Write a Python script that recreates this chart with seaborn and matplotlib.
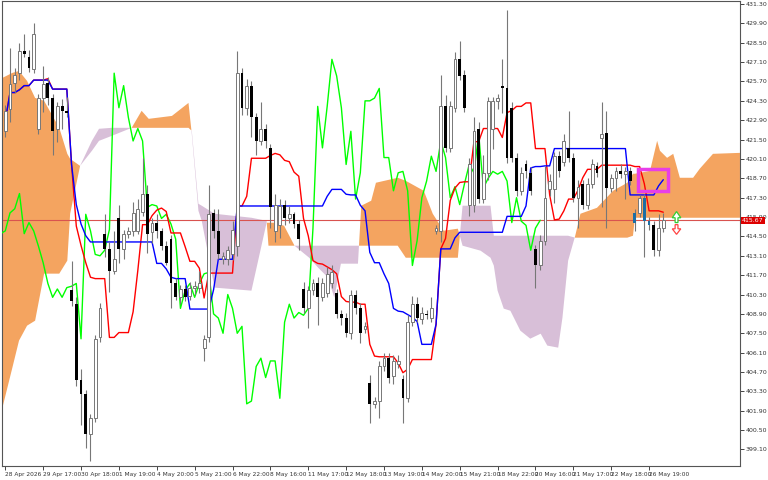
import numpy as np
import pandas as pd
import matplotlib
matplotlib.use("Agg")
import matplotlib.pyplot as plt
import seaborn as sns
from matplotlib.patches import Rectangle, FancyArrow

sns.set_style("white")
plt.rcParams['font.family'] = ['DejaVu Sans']

opens = [422.1,423.7,425.6,426.3,427.9,427.5,426.6,422.3,424.5,425.6,424.5,422.3,423.9,423.6,
 410.6,409.6,404.1,403.1,400.2,401.4,407.2,414.7,413.6,412.0,415.8,413.6,414.7,414.9,414.9,416.3,
 417.6,414.8,415.5,414.9,413.8,414.3,411.1,410.1,410.7,410.2,410.8,410.8,406.4,407.2,416.2,414.9,
 412.9,412.9,413.2,413.8,426.3,423.8,425.4,423.1,421.4,422.3,420.9,414.9,415.3,416.8,415.8,416.1,
 415.4,410.7,409.3,410.6,411.1,410.1,410.4,411.1,410.4,408.9,408.6,407.5,410.3,409.3,407.8,403.9,
 402.4,402.6,405.1,405.7,404.4,405.3,404.2,402.8,408.3,409.6,408.5,408.9,408.6,414.9,414.9,423.9,
 420.9,423.8,427.3,426.2,416.8,416.8,422.3,417.2,419.1,422.3,424.3,425.4,425.2,423.8,420.2,417.8,
 419.7,419.1,413.6,412.4,414.2,417.9,417.9,420.3,419.9,420.9,420.2,417.3,418.3,416.8,418.3,419.6,
 421.6,422.0,418.0,418.7,419.2,419.0,419.2,416.2,416.2,417.3,415.6,415.3,413.5,415.1]
closes = [423.6,425.5,426.2,427.9,427.7,426.7,429.1,424.5,425.5,424.5,422.1,423.9,423.6,423.4,
 409.8,404.1,403.1,400.2,401.4,407.1,409.3,413.6,412.0,412.9,413.6,414.7,414.9,416.2,416.5,417.6,
 414.7,415.5,414.9,413.8,412.6,411.1,410.1,410.7,410.1,410.8,410.9,411.1,407.1,416.1,414.9,413.2,
 413.1,413.5,415.0,426.3,423.8,425.4,423.1,421.4,422.3,421.4,416.6,416.8,416.7,415.8,416.1,415.4,
 414.3,409.3,410.6,411.1,410.1,411.1,411.8,411.9,408.9,408.6,407.5,410.3,409.3,407.5,408.0,402.4,
 402.6,405.1,405.7,404.3,405.5,405.5,402.8,408.3,409.6,408.6,409.0,408.8,409.3,415.1,423.9,420.9,
 423.9,427.3,426.1,423.8,419.7,422.1,417.2,419.1,424.3,424.3,424.5,425.2,420.2,420.2,417.8,419.1,
 419.2,417.8,412.4,414.2,417.3,418.5,420.3,419.2,421.4,420.2,417.3,418.1,416.8,418.3,419.7,419.1,
 421.9,418.0,418.7,419.2,419.0,419.2,418.5,415.5,417.3,415.6,415.3,413.5,415.1,415.67]
wick_up = [0.4,2.6,0.5,0.6,1.2,0.5,0.8,0.3,1.3,0.4,0.3,0.3,0.5,1.0,
 2.1,0.5,0.8,0.3,0.3,0.3,0.4,1.4,0.5,2.0,1.0,0.3,0.3,0.8,0.7,2.6,
 0.6,0.3,0.6,0.2,0.4,0.3,0.4,0.3,0.3,0.4,0.4,0.9,0.3,2.1,0.3,1.6,
 0.3,0.3,0.6,1.6,0.4,0.5,0.3,0.3,1.9,0.3,0.3,0.8,0.5,0.3,0.6,0.2,
 0.3,0.5,0.3,0.3,0.5,0.4,0.5,0.5,0.3,0.3,0.4,0.3,0.3,0.4,0.3,0.6,
 0.3,0.4,0.4,0.4,0.4,0.4,0.3,0.5,0.6,0.5,0.4,0.3,0.8,0.2,2.3,0.8,
 0.4,0.5,1.3,0.3,0.5,1.0,0.5,1.3,0.3,0.3,0.3,1.9,5.7,0.4,0.3,0.4,
 0.3,0.4,0.3,0.4,2.3,0.5,0.3,0.4,0.5,2.7,0.3,0.5,0.3,0.4,0.4,0.3,
 2.3,1.6,0.3,0.3,0.5,0.3,0.3,0.3,0.2,0.3,0.3,0.3,1.0,0.5]
wick_dn = [0.4,0.9,0.7,0.5,0.2,0.3,0.3,0.4,1.0,0.5,1.7,1.0,1.3,0.3,
 0.3,0.4,2.2,1.0,1.9,0.3,0.3,0.6,1.5,0.2,1.0,0.7,0.3,0.4,0.2,0.3,
 1.4,0.8,0.5,0.3,0.2,1.8,0.2,0.5,0.3,0.3,0.5,0.4,0.9,0.3,0.5,0.3,
 0.4,0.5,0.4,0.7,0.5,0.5,1.4,1.0,0.3,0.5,1.5,0.8,0.9,0.5,0.3,0.3,
 0.8,0.3,1.4,0.3,2.0,0.3,0.3,0.3,0.3,0.5,0.3,0.4,0.4,0.7,0.3,1.4,
 0.3,1.2,0.3,0.4,0.6,0.3,1.8,0.3,0.3,0.3,0.3,0.3,0.3,0.2,0.8,0.3,
 0.3,0.3,0.3,0.3,0.8,0.5,0.3,0.3,0.5,1.5,0.6,1.8,0.4,0.3,0.4,0.3,
 0.5,0.3,1.6,0.3,0.3,0.5,1.0,0.4,0.3,0.3,0.3,2.2,0.3,0.3,0.3,0.3,
 5.0,2.9,0.3,0.9,0.3,1.8,0.3,0.6,0.3,2.6,0.3,0.4,0.4,0.3]

cloud_x = [-0.6,1.5,2.9,4.6,6.3,8.2,11.4,13.1,13.7,15.8,18.3,19.8,22.5,26.7,28.8,30.3,35.2,38.7,39.4,
 40.8,41.5,44.2,52,55.2,55.6,56.8,58.9,61.1,64.2,66.1,68.2,69.5,70.9,74.5,75.2,77.3,78.3,82.9,84.6,
 88.4,90.3,92.6,95.6,96.6,100.4,102.5,103.2,104,105.3,106.7,108.8,110.9,113.1,114.5,116.8,117.7,118.9,
 120.4,121.5,125,128.4,131.4,132.6,133,136.2,137.7,138.3,139.8,141.1,142.5,145.3,146.7,149.5,155.2]
span_a = [425.96,426.32,426.46,425.74,424.51,424.3,422.35,420.47,420.11,419.6,420.69,421.41,421.77,422.35,
 423.58,423.0,423.21,424.15,421.9,416.35,415.63,410.8,410.58,415.49,415.49,415.49,415.27,413.83,412.96,
 412.24,411.52,410.07,412.53,412.53,416.72,417.08,418.38,418.74,418.52,417.8,416.14,414.91,415.06,413.83,
 413.47,412.96,412.39,410.58,409.28,409.13,407.69,407.11,407.47,406.61,406.46,408.63,412.75,414.55,416.14,
 416.57,417.8,418.38,419.03,419.03,419.24,421.41,420.69,420.18,420.47,418.74,418.74,419.39,420.47,420.54]
span_b = [402.13,405.02,406.97,408.05,408.41,411.81,411.81,412.75,416.14,419.6,421.41,422.28,422.35,422.35,
 422.35,422.35,422.35,422.35,422.13,416.86,416.72,416.14,415.85,415.63,413.83,413.83,413.83,413.83,413.83,
 413.83,413.83,413.83,413.83,413.83,413.83,413.83,413.83,413.83,412.96,412.96,412.96,412.96,412.96,416.72,
 416.72,416.72,414.55,414.55,414.55,414.55,414.55,414.55,414.55,414.55,414.55,414.55,414.55,414.41,414.41,
 414.41,414.41,414.41,414.55,415.85,415.85,415.85,415.85,415.85,415.85,415.85,415.85,415.85,415.85,415.85]

tick_bars = list(range(0, 137, 8))
tick_labels = ['28 Apr 2026','29 Apr 17:00','30 Apr 18:00','1 May 19:00','4 May 20:00','5 May 21:00',
 '6 May 22:00','8 May 16:00','11 May 17:00','12 May 18:00','13 May 19:00','14 May 20:00','15 May 21:00',
 '18 May 22:00','20 May 16:00','21 May 17:00','22 May 18:00','26 May 19:00']
current_price = 415.67
box_bars = (133.7, 139.9)
box_prices = (417.8, 419.4)

o = np.array(opens); c = np.array(closes)
hi = np.maximum(o, c) + np.array(wick_up)
lo = np.minimum(o, c) - np.array(wick_dn)
n = len(c)
idx = np.arange(n)
df = pd.DataFrame({'bar': idx, 'open': o, 'close': c, 'high': hi, 'low': lo})
tenkan = (df['high'].rolling(9, min_periods=1).max() + df['low'].rolling(9, min_periods=1).min()) / 2
kijun = (df['high'].rolling(26, min_periods=1).max() + df['low'].rolling(26, min_periods=1).min()) / 2

fig = plt.figure(figsize=(7.68, 4.8), dpi=100)
ax = fig.add_axes([0.003, 0.029, 0.9605, 0.969])

cx = np.array(cloud_x); sa = np.array(span_a); sb = np.array(span_b)
ax.fill_between(cx, sa, sb, where=sa >= sb, interpolate=True, color='#f4a460', lw=0, zorder=1)
ax.fill_between(cx, sa, sb, where=sa < sb, interpolate=True, color='#d8bfd8', lw=0, zorder=1)

ax.axhline(current_price, color='#d9534f', lw=0.8, zorder=2)

sns.lineplot(x=idx - 26, y=c, ax=ax, color='#00ff00', lw=1, zorder=3)
sns.lineplot(x=idx, y=tenkan.values, ax=ax, color='#ff0000', lw=1, zorder=3)
sns.lineplot(x=idx, y=kijun.values, ax=ax, color='#0000ff', lw=1, zorder=3)

bull = c >= o
ax.vlines(idx, lo, hi, color='#777777', lw=0.8, zorder=4)
bear_col = ['#1c6ea4' if 133 <= i <= 136 else 'black' for i in idx]
ax.bar(idx[bull], np.maximum(c - o, 0.06)[bull], bottom=o[bull], width=0.6,
       color='white', edgecolor='#777777', lw=0.7, zorder=5)
ax.bar(idx[~bull], (o - c)[~bull], bottom=c[~bull], width=0.6,
       color=[bear_col[i] for i in idx[~bull]], edgecolor='none', zorder=5)

ax.add_patch(Rectangle((box_bars[0], box_prices[0]), box_bars[1] - box_bars[0],
                       box_prices[1] - box_prices[0], fill=False, ec='#e83ee8', lw=2.5, zorder=6))
ax.add_patch(FancyArrow(141.8, 415.5, 0, 0.8, width=0.6, head_width=1.8, head_length=0.45,
                        length_includes_head=True, fc='white', ec='#33cc33', lw=0.9, zorder=6))
ax.add_patch(FancyArrow(141.8, 415.35, 0, -0.7, width=0.6, head_width=1.8, head_length=0.4,
                        length_includes_head=True, fc='white', ec='#ff4444', lw=0.9, zorder=6))

ax.set_xlim(-0.63, 155.2)
ax.set_ylim(397.9, 431.52)
ax.yaxis.tick_right()
yt = np.round(np.arange(399.1, 431.4, 1.4), 2)
ax.set_yticks(yt)
ax.set_yticklabels([f'{v:.2f}' for v in yt], fontsize=4.5, color='#333333')
ax.set_xticks(tick_bars)
ax.set_xticklabels(tick_labels, fontsize=4.2, ha='left', color='#333333')
ax.tick_params(axis='both', length=3, width=0.6, pad=1, direction='out', bottom=True, right=True)
for sp in ax.spines.values():
    sp.set_color('#555555'); sp.set_linewidth(0.8)
ax.text(1.003, current_price, f'{current_price:.2f}', transform=ax.get_yaxis_transform(),
        fontsize=4.5, color='white', va='center', ha='left',
        bbox=dict(boxstyle='square,pad=0.15', fc='#dd0000', ec='none'), zorder=10, clip_on=False)
ax.set_xlabel(''); ax.set_ylabel('')
fig.savefig('out.png', dpi=100)
